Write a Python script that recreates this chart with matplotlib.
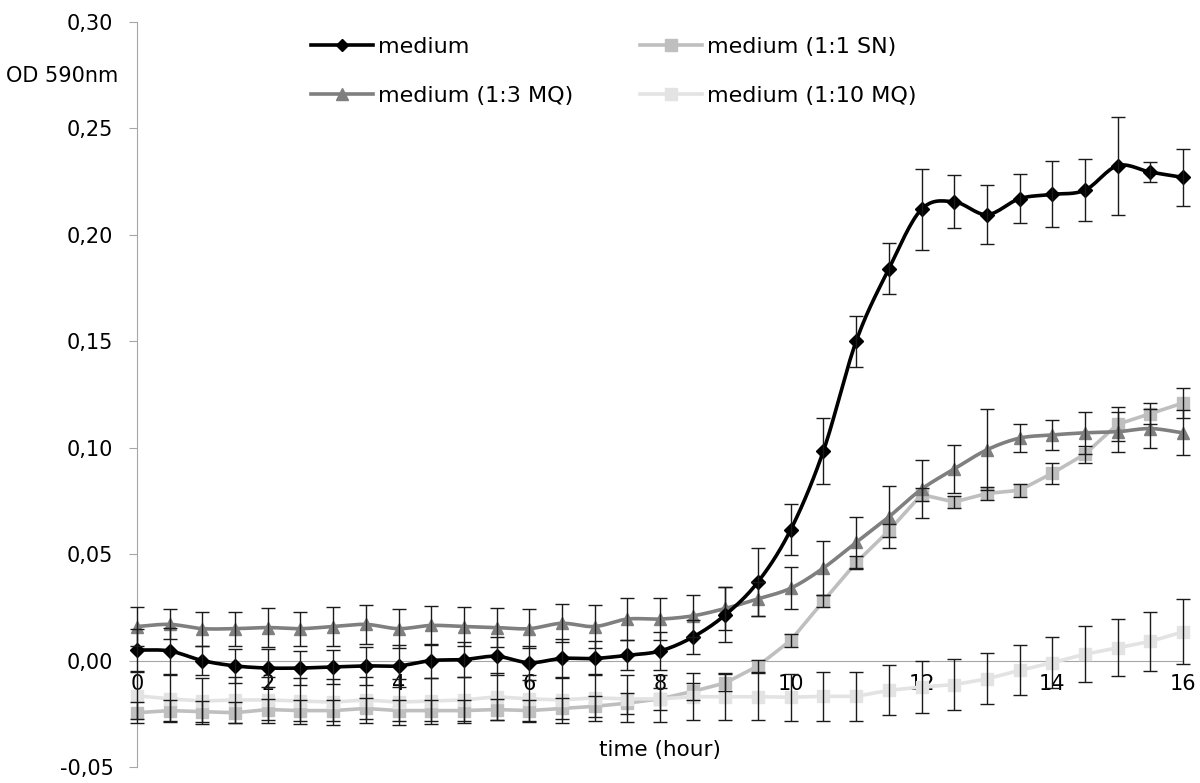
import matplotlib
matplotlib.use('Agg')
import matplotlib.pyplot as plt
import numpy as np

plt.rcParams['font.family'] = ['DejaVu Sans']

# measurement times (hour)
time = [0, 0.5, 1, 1.5, 2, 2.5, 3, 3.5, 4, 4.5, 5, 5.5, 6, 6.5, 7, 7.5, 8,
        8.5, 9, 9.5, 10, 10.5, 11, 11.5, 12, 12.5, 13, 13.5, 14, 14.5, 15, 15.5, 16]

medium = [0.005, 0.0045, 0.0, -0.0025, -0.0035, -0.0035, -0.003, -0.0025, -0.0025,
          0.0, 0.0005, 0.002, -0.001, 0.001, 0.001, 0.0025, 0.0045, 0.011, 0.0215,
          0.037, 0.0615, 0.0985, 0.150, 0.184, 0.212, 0.2155, 0.2095, 0.217, 0.219,
          0.221, 0.2325, 0.2295, 0.227]
medium_err = [0.010, 0.011, 0.007, 0.008, 0.009, 0.008, 0.008, 0.009, 0.010, 0.008,
              0.008, 0.009, 0.008, 0.009, 0.008, 0.007, 0.009, 0.008, 0.013, 0.016,
              0.012, 0.0155, 0.012, 0.012, 0.019, 0.0125, 0.014, 0.0115, 0.0155,
              0.0145, 0.023, 0.0045, 0.0135]

sn_1_1 = [-0.0245, -0.0235, -0.024, -0.0245, -0.023, -0.0235, -0.0235, -0.0225, -0.0235,
          -0.0235, -0.0235, -0.023, -0.0235, -0.0225, -0.0215, -0.020, -0.018, -0.0145,
          -0.0105, -0.0025, 0.0095, 0.028, 0.046, 0.061, 0.078, 0.0745, 0.0785, 0.080,
          0.088, 0.097, 0.111, 0.116, 0.121]
sn_1_1_err = [0.005, 0.005, 0.005, 0.005, 0.005, 0.005, 0.005, 0.005, 0.005, 0.005,
              0.005, 0.005, 0.005, 0.005, 0.005, 0.005, 0.005, 0.004, 0.004, 0.003,
              0.003, 0.003, 0.003, 0.003, 0.003, 0.003, 0.003, 0.003, 0.005, 0.004,
              0.008, 0.005, 0.007]

mq_1_3 = [0.016, 0.017, 0.015, 0.015, 0.0155, 0.015, 0.016, 0.017, 0.015, 0.0165,
          0.016, 0.0155, 0.015, 0.0175, 0.016, 0.0195, 0.0195, 0.021, 0.0245, 0.029,
          0.034, 0.0435, 0.0555, 0.0675, 0.0805, 0.090, 0.099, 0.1045, 0.106, 0.107,
          0.1075, 0.109, 0.107]
mq_1_3_err = [0.009, 0.007, 0.008, 0.008, 0.009, 0.008, 0.009, 0.009, 0.009, 0.009,
              0.009, 0.009, 0.009, 0.009, 0.010, 0.010, 0.010, 0.010, 0.010, 0.008,
              0.010, 0.0125, 0.012, 0.0145, 0.0135, 0.0115, 0.019, 0.0067, 0.007,
              0.010, 0.0095, 0.009, 0.0105]

mq_1_10 = [-0.0165, -0.018, -0.019, -0.0185, -0.0185, -0.019, -0.0195, -0.0185, -0.0195,
           -0.019, -0.0185, -0.017, -0.018, -0.0185, -0.0175, -0.018, -0.018, -0.017,
           -0.017, -0.017, -0.0172, -0.0168, -0.0168, -0.014, -0.0124, -0.0113, -0.0086,
           -0.0046, -0.001, 0.003, 0.006, 0.009, 0.0135]
mq_1_10_err = [0.011, 0.011, 0.011, 0.011, 0.011, 0.011, 0.011, 0.011, 0.011, 0.011,
               0.011, 0.011, 0.011, 0.011, 0.011, 0.011, 0.011, 0.011, 0.011, 0.011,
               0.011, 0.0115, 0.0115, 0.0117, 0.0124, 0.012, 0.012, 0.0118, 0.012,
               0.0133, 0.0133, 0.0137, 0.0153]

yticks = [-0.05, 0.0, 0.05, 0.10, 0.15, 0.20, 0.25, 0.30]
ytick_labels = ['-0,05', '0,00', '0,05', '0,10', '0,15', '0,20', '0,25', '0,30']
xticks = [0, 2, 4, 6, 8, 10, 12, 14, 16]


def smooth(x, y, n=16):
    # catmull-rom curve through the points (like the smoothed line in excel)
    x = np.asarray(x, float)
    y = np.asarray(y, float)
    px = np.concatenate([[2 * x[0] - x[1]], x, [2 * x[-1] - x[-2]]])
    py = np.concatenate([[2 * y[0] - y[1]], y, [2 * y[-1] - y[-2]]])
    s = np.linspace(0, 1, n, endpoint=False)
    xs, ys = [], []
    for i in range(1, len(px) - 2):
        for p, out in ((px, xs), (py, ys)):
            p0, p1, p2, p3 = p[i - 1], p[i], p[i + 1], p[i + 2]
            out.extend(0.5 * (2 * p1 + (-p0 + p2) * s + (2 * p0 - 5 * p1 + 4 * p2 - p3) * s ** 2
                              + (-p0 + 3 * p1 - 3 * p2 + p3) * s ** 3))
    xs.append(x[-1])
    ys.append(y[-1])
    return np.array(xs), np.array(ys)


fig = plt.figure(figsize=(12, 7.83), dpi=100)
ax = fig.add_axes([137 / 1200, 1 - 767 / 783, 1046 / 1200, 745 / 783])

series = [
    ('medium', medium, medium_err, '#000000', 'D', 7, True),
    ('medium (1:1 SN)', sn_1_1, sn_1_1_err, '#bfbfbf', 's', 9, False),
    ('medium (1:3 MQ)', mq_1_3, mq_1_3_err, '#7f7f7f', '^', 9, True),
    ('medium (1:10 MQ)', mq_1_10, mq_1_10_err, '#e3e3e3', 's', 9, False),
]

handles = {}
for i, (name, vals, err, col, mk, ms, is_smooth) in enumerate(series):
    z = 4.5 if i == 0 else 3 + i * 0.1
    if is_smooth:
        sx, sy = smooth(time, vals)
    else:
        sx, sy = time, vals
    ax.plot(sx, sy, color=col, lw=2.6, zorder=z, clip_on=False)
    ax.plot(time, vals, ls='none', marker=mk, ms=ms, color=col, mec=col,
            zorder=z, clip_on=False)
    ax.errorbar(time, vals, yerr=err, fmt='none', ecolor='#1a1a1a', elinewidth=1,
                capsize=5, capthick=1, zorder=6, clip_on=False)
    handles[name] = plt.Line2D([], [], color=col, lw=2.6, marker=mk, ms=ms - 1, mec=col)

ax.set_xlim(0, 16)
ax.set_ylim(-0.05, 0.30)

ax.spines['top'].set_visible(False)
ax.spines['right'].set_visible(False)
ax.spines['bottom'].set_position(('data', 0))
ax.spines['bottom'].set_color('#a6a6a6')
ax.spines['left'].set_color('#a6a6a6')
ax.spines['bottom'].set_zorder(2)

ax.set_yticks(yticks)
ax.set_yticklabels(ytick_labels)
ax.set_xticks(xticks)
ax.set_xticklabels([str(t) for t in xticks])
ax.tick_params(axis='y', length=6, color='#a6a6a6', pad=11, labelsize=15)
ax.tick_params(axis='x', length=0, pad=10, labelsize=15)

ax.set_ylabel('OD 590nm', rotation=0, fontsize=15, ha='center', va='center')
ax.yaxis.set_label_coords(-0.072, 0.927)
ax.set_xlabel('time (hour)', fontsize=15.5, va='center')
ax.xaxis.set_label_coords(0.5, 0.023)

order = ['medium', 'medium (1:3 MQ)', 'medium (1:1 SN)', 'medium (1:10 MQ)']
leg = ax.legend([handles[k] for k in order], order, ncol=2, frameon=False,
                loc='upper left', bbox_to_anchor=(0.147, 1.0067), fontsize=16,
                handlelength=2.8, handletextpad=0.22, columnspacing=3.0,
                labelspacing=1.3)

fig.savefig('out.png', dpi=100)
plt.close(fig)
